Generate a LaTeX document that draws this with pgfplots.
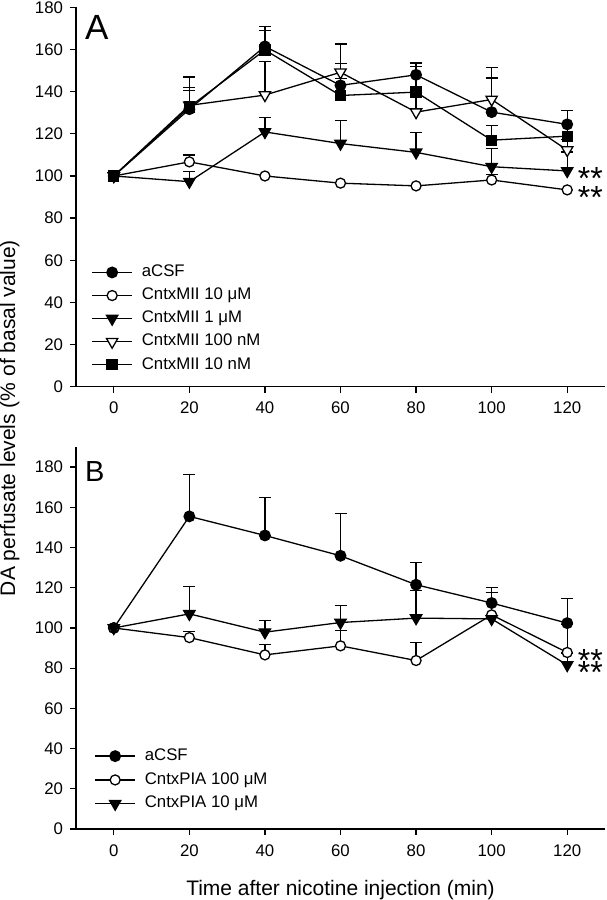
\documentclass[border=0pt]{standalone}
\usepackage{fontspec}
\setmainfont{Liberation Sans}
\usepackage{pgfplots}
\pgfplotsset{compat=1.18}

\pgfplotsset{
  common/.style={
    scale only axis, width=529pt,
    xmin=-10, xmax=130, xtick={0,20,...,120},
    axis x line=bottom, axis y line=left,
    axis line style={-, line width=1.4pt},
    tick align=outside, major tick length=6pt,
    tick style={line width=1.3pt, black},
    /pgf/number format/assume math mode=true,
    tick label style={font=\fontsize{16.8}{18}\selectfont},
    yticklabel style={xshift=-3.5pt},
    xticklabel style={yshift=-6pt},
    every axis plot/.append style={line width=1.3pt, black},
    legend style={draw=none, fill=none, inner sep=0pt, outer sep=0pt,
      font=\fontsize{16.8}{20}\selectfont,
      nodes={inner sep=0pt, text height=12pt, text depth=3.5pt}},
    legend cell align=left,
    legend image code/.code={\draw[mark repeat=2,mark phase=2] plot coordinates {(0pt,0pt) (20pt,0pt) (40pt,0pt)};},
    clip=false,
  },
  eb/.style={forget plot, only marks, mark=none,
    error bars/.cd, y dir=plus, y explicit,
    error bar style={line width=1.3pt, black},
    error mark options={rotate=90, mark size=6pt, line width=1.3pt, black}},
  fcirc/.style={mark=*, mark size=5.3pt},
  ocirc/.style={mark=*, mark options={fill=white}, mark size=5pt},
  ftri/.style={mark=triangle*, mark options={rotate=180}, mark size=6.5pt},
  otri/.style={mark=triangle*, mark options={rotate=180, fill=white}, mark size=6.5pt},
  fsq/.style={mark=square*, mark size=5pt},
}

\begin{document}
\begin{tikzpicture}[x=1pt,y=1pt]
\useasboundingbox (0,-900) rectangle (606,0);

% ---------------- Panel A ----------------
\begin{axis}[common, at={(76pt,-386.7pt)}, anchor=south west,
  height=379.3pt, ymin=0, ymax=180, ytick={0,20,...,180},
  legend style={at={(axis cs:-5.9,57.9)}, anchor=north west, row sep=7.6pt}]
% error bars
\addplot[eb] coordinates {(20,131.7) +- (0,15.3) (40,161.5) +- (0,9.3) (60,143) +- (0,10.4) (80,148) +- (0,5.6) (100,130.3) +- (0,16.2) (120,124.5) +- (0,6.5)};
\addplot[eb] coordinates {(20,106.7) +- (0,3.3) (100,98.1) +- (0,2.5)};
\addplot[eb] coordinates {(20,97.3) +- (0,4.7) (40,120.9) +- (0,6.8) (60,115.4) +- (0,11) (80,111.2) +- (0,9.4) (100,104.4) +- (0,8.7) (120,102.4) +- (0,9)};
\addplot[eb] coordinates {(20,133.5) +- (0,7.1) (40,138.4) +- (0,15.8) (60,149.2) +- (0,13.4) (80,130.3) +- (0,8) (100,136.3) +- (0,15.3) (120,112.3) +- (0,5)};
\addplot[eb] coordinates {(20,132.7) +- (0,9.3) (40,159.8) +- (0,9.4) (60,138.2) +- (0,8) (80,139.8) +- (0,12.1) (100,117) +- (0,7) (120,118.9) +- (0,6)};
% lines
\addplot[fcirc] coordinates {(0,100) (20,131.7) (40,161.5) (60,143) (80,148) (100,130.3) (120,124.5)};
\addlegendentry{\hspace*{9pt}aCSF}
\addplot[ocirc] coordinates {(0,100) (20,106.7) (40,100) (60,96.6) (80,95.3) (100,98.1) (120,93.4)};
\addlegendentry{\hspace*{9pt}CntxMII 10 μM}
\addplot[ftri] coordinates {(0,100) (20,97.3) (40,120.9) (60,115.4) (80,111.2) (100,104.4) (120,102.4)};
\addlegendentry{\hspace*{9pt}CntxMII 1 μM}
\addplot[otri] coordinates {(0,100) (20,133.5) (40,138.4) (60,149.2) (80,130.3) (100,136.3) (120,112.3)};
\addlegendentry{\hspace*{9pt}CntxMII 100 nM}
\addplot[fsq] coordinates {(0,100) (20,132.7) (40,159.8) (60,138.2) (80,139.8) (100,117) (120,118.9)};
\addlegendentry{\hspace*{9pt}CntxMII 10 nM}
\node[anchor=base west, font=\fontsize{32}{32}\selectfont, inner sep=0pt] at (axis cs:122.8,102.4) [yshift=-18.5pt] {**};
\node[anchor=base west, font=\fontsize{32}{32}\selectfont, inner sep=0pt] at (axis cs:122.8,93.4) [yshift=-18.5pt] {**};
\end{axis}

% ---------------- Panel B ----------------
\begin{axis}[common, at={(76pt,-829pt)}, anchor=south west,
  height=382pt, ymin=0, ymax=190, ytick={0,20,...,180},
  legend style={at={(axis cs:-5.1,40.1)}, anchor=north west, row sep=8.3pt}]
\addplot[eb] coordinates {(20,155.5) +- (0,20.9) (40,146) +- (0,18.8) (60,135.9) +- (0,20.9) (80,121.5) +- (0,11.1) (100,112.4) +- (0,7.7) (120,102.4) +- (0,12.2)};
\addplot[eb] coordinates {(20,95.2) +- (0,3) (40,86.6) +- (0,5) (60,91.1) +- (0,7.5) (80,83.8) +- (0,8.9) (100,106.5) +- (0,11.1) (120,87.8) +- (0,14)};
\addplot[eb] coordinates {(20,107) +- (0,13.6) (40,97.9) +- (0,5.8) (60,102.7) +- (0,8.5) (80,104.9) +- (0,13.6) (120,81.6) +- (0,6)};
\addplot[fcirc] coordinates {(0,100) (20,155.5) (40,146) (60,135.9) (80,121.5) (100,112.4) (120,102.4)};
\addlegendentry{\hspace*{9pt}aCSF}
\addplot[ocirc] coordinates {(0,100) (20,95.2) (40,86.6) (60,91.1) (80,83.8) (100,106.5) (120,87.8)};
\addlegendentry{\hspace*{9pt}CntxPIA 100 μM}
\addplot[ftri] coordinates {(0,100) (20,107) (40,97.9) (60,102.7) (80,104.9) (100,104.5) (120,81.6)};
\addlegendentry{\hspace*{9pt}CntxPIA 10 μM}
\node[anchor=base west, font=\fontsize{32}{32}\selectfont, inner sep=0pt] at (axis cs:122.8,87.4) [yshift=-18.5pt] {**};
\node[anchor=base west, font=\fontsize{32}{32}\selectfont, inner sep=0pt] at (axis cs:122.8,81.6) [yshift=-18.5pt] {**};
\end{axis}

% labels
\node[rotate=90, anchor=base, font=\fontsize{21}{24}\selectfont, inner sep=0pt] at (15,-418) {DA perfusate levels (\% of basal value)};
\node[anchor=base, font=\fontsize{21}{24}\selectfont, inner sep=0pt] at (340.5,-895) {Time after nicotine injection (min)};
\node[anchor=base west, font=\fontsize{35}{35}\selectfont, inner sep=0pt] at (85,-39) {A};
\node[anchor=base west, font=\fontsize{29}{29}\selectfont, inner sep=0pt] at (85,-481.7) {B};
\end{tikzpicture}
\end{document}
